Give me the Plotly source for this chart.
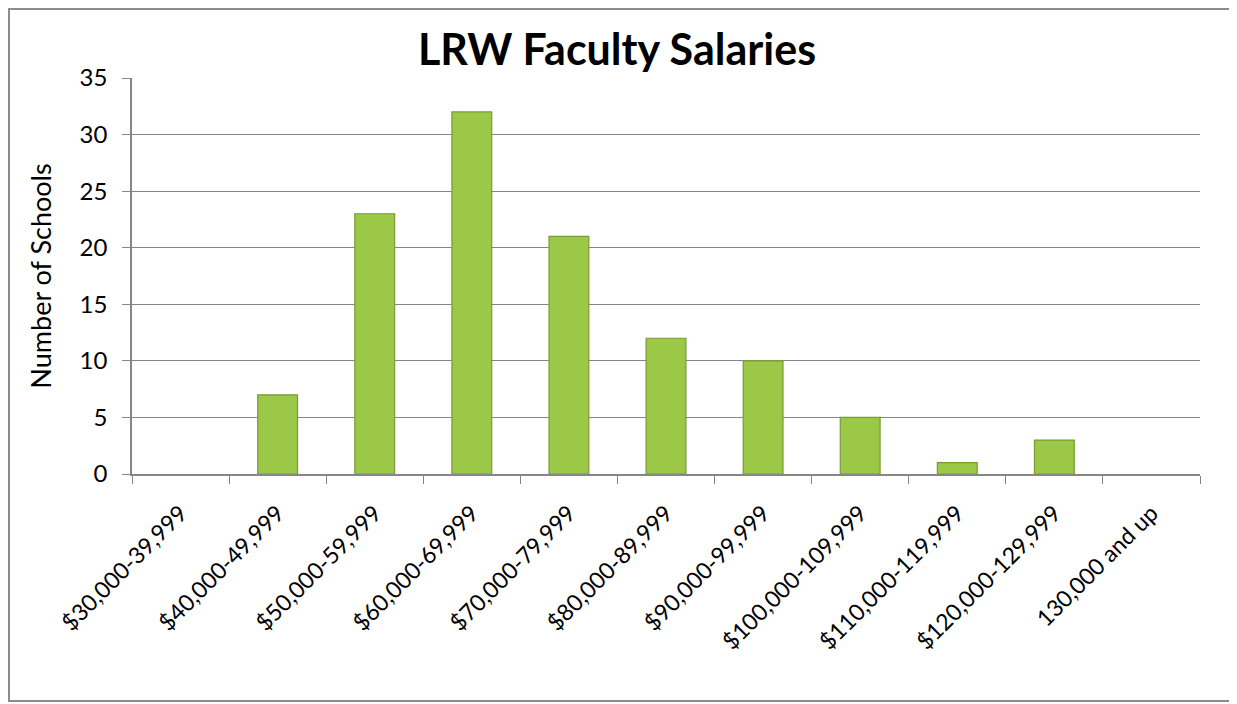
import plotly.graph_objects as go

categories = ["$30,000-39,999", "$40,000-49,999", "$50,000-59,999", "$60,000-69,999",
              "$70,000-79,999", "$80,000-89,999", "$90,000-99,999", "$100,000-109,999",
              "$110,000-119,999", "$120,000-129,999", "130,000 and up"]
schools = [0, 7, 23, 32, 21, 12, 10, 5, 1, 3, 0]
y_ticks = [0, 5, 10, 15, 20, 25, 30, 35]

OFF = 8  # default page body margin
W, H = 1237 - OFF, 704 - OFF
L, R, T, B = 132 - OFF, 37, 78 - OFF, 230
pw, ph = W - L - R, H - T - B

fig = go.Figure(go.Bar(
    x=categories, y=schools, width=0.41,
    marker=dict(color="#9bc846",
                line=dict(color="#7a9a34", width=[0 if v == 0 else 1.2 for v in schools])),
))

def px_x(p):
    return (p - OFF - L) / pw

def px_y(p):
    return (H - B - (p - OFF)) / ph

fig.add_shape(type="rect", xref="paper", yref="paper",
              x0=px_x(OFF + 1), x1=px_x(1231), y0=px_y(701), y1=px_y(OFF + 1),
              line=dict(color="#8c8c8c", width=2), fillcolor="rgba(0,0,0,0)", layer="below")

fig.update_layout(
    width=W, height=H,
    margin=dict(l=L, r=R, t=T, b=B),
    paper_bgcolor="white", plot_bgcolor="white",
    font=dict(family="Lato, Open Sans, sans-serif", size=23, color="black"),
    title=dict(text="<b>LRW Faculty Salaries</b>", x=px_x(617), xanchor="center",
               xref="paper", y=1 - (50 - OFF) / H, yanchor="middle", font=dict(size=43)),
    showlegend=False,
)
fig.update_xaxes(
    type="category", tickangle=-45, tickson="boundaries",
    ticks="outside", ticklen=8, tickcolor="#868686",
    showline=True, linecolor="#868686", linewidth=1.5,
    showgrid=False, tickfont=dict(size=23), ticklabelstandoff=15,
)
fig.update_yaxes(
    range=[0, 35], tickvals=y_ticks, ticks="outside", ticklen=8, tickcolor="#868686",
    showline=True, linecolor="#868686", linewidth=1.5,
    showgrid=True, gridcolor="#868686", gridwidth=1, zeroline=False,
    title=dict(text="Number of Schools", font=dict(size=27), standoff=20),
    tickfont=dict(size=24), ticklabelstandoff=10,
)

fig.write_html("out.html")
